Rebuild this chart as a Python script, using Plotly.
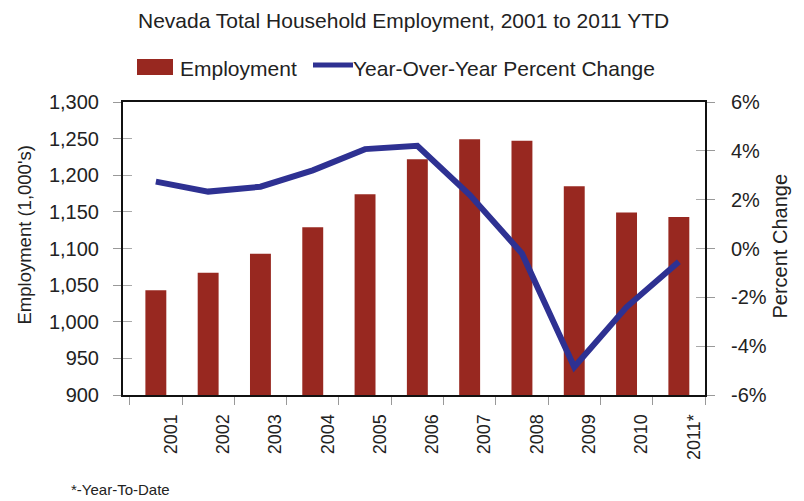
import plotly.graph_objects as go

years = ["2001", "2002", "2003", "2004", "2005", "2006", "2007", "2008", "2009", "2010", "2011*"]
employment = [1043, 1067, 1093, 1129, 1174, 1222, 1249, 1247, 1185, 1149, 1143]
pct_change = [2.74, 2.33, 2.53, 3.2, 4.07, 4.21, 2.2, -0.2, -4.85, -2.4, -0.54]
left_ticks = [900, 950, 1000, 1050, 1100, 1150, 1200, 1250, 1300]
right_ticks = [-6, -4, -2, 0, 2, 4, 6]
right_labels = [f"{v}%" for v in right_ticks]

BAR = "#982820"
LINE = "#2E3192"
TXT = "#222222"
FONT = "Liberation Sans, Arial, sans-serif"

W, H = 804, 501
L, R, T, B = 123, 99, 102, 106


def px_x(px):
    return (px - L) / (W - L - R)


def px_y(py):
    return (H - B - py) / (H - T - B)


fig = go.Figure()
fig.add_trace(go.Bar(
    x=years, y=employment, name="Employment",
    marker=dict(color=BAR, line=dict(width=0)), width=0.4,
))
fig.add_trace(go.Scatter(
    x=years, y=pct_change, name="Year-Over-Year Percent Change",
    yaxis="y2", mode="lines", line=dict(color=LINE, width=6),
))

axis_font = dict(size=20, family=FONT, color=TXT)

fig.update_layout(
    width=W, height=H,
    margin=dict(l=L, r=R, t=T, b=B),
    paper_bgcolor="white", plot_bgcolor="white",
    font=dict(family=FONT, color=TXT),
    showlegend=False,
    title=dict(text="Nevada Total Household Employment, 2001 to 2011 YTD",
               x=0.502, xref="container", xanchor="center",
               y=0.958, yref="container", yanchor="middle",
               font=dict(size=21, family=FONT, color=TXT)),
    xaxis=dict(
        type="category", tickson="boundaries", ticks="outside", ticklen=8,
        tickcolor="#999999", tickangle=-90, ticklabelshift=15,
        ticklabelstandoff=10,
        tickfont=dict(size=18, family=FONT, color=TXT),
        showline=True, linecolor="#111111", linewidth=2, mirror=True,
        showgrid=False, zeroline=False,
    ),
    yaxis=dict(
        range=[900, 1300], tickvals=left_ticks, tickformat=",",
        ticks="outside", ticklen=8, tickcolor="#999999",
        ticklabelstandoff=10,
        tickfont=axis_font,
        showline=True, linecolor="#111111", linewidth=2, mirror=True,
        showgrid=False, zeroline=False,
    ),
    yaxis2=dict(
        range=[-6, 6], tickvals=right_ticks, ticktext=right_labels,
        overlaying="y", side="right",
        ticks="outside", ticklen=8, tickcolor="#999999",
        ticklabelstandoff=12,
        tickfont=axis_font,
        showline=True, linecolor="#111111", linewidth=2,
        showgrid=False, zeroline=False,
    ),
    # inner halves of the tick marks that cross the frame
    yaxis3=dict(
        range=[900, 1300], tickvals=left_ticks, overlaying="y", side="left",
        ticks="inside", ticklen=9, tickcolor="#aaaaaa", showticklabels=False,
        showline=False, showgrid=False, zeroline=False,
    ),
    yaxis4=dict(
        range=[-6, 6], tickvals=right_ticks, overlaying="y", side="right",
        ticks="inside", ticklen=9, tickcolor="#aaaaaa", showticklabels=False,
        showline=False, showgrid=False, zeroline=False,
    ),
)

# invisible traces so the overlay axes get drawn
fig.add_trace(go.Scatter(x=[years[0]], y=[None], yaxis="y3", showlegend=False, hoverinfo="skip"))
fig.add_trace(go.Scatter(x=[years[0]], y=[None], yaxis="y4", showlegend=False, hoverinfo="skip"))

# axis titles
fig.add_annotation(
    text="Employment (1,000's)", xref="paper", yref="paper",
    x=px_x(24), y=px_y(235.5), textangle=-90, showarrow=False,
    xanchor="center", yanchor="middle",
    font=dict(size=18.5, family=FONT, color=TXT),
)
fig.add_annotation(
    text="Percent Change", xref="paper", yref="paper",
    x=px_x(779), y=px_y(246.5), textangle=-90, showarrow=False,
    xanchor="center", yanchor="middle",
    font=dict(size=20, family=FONT, color=TXT),
)

# legend
fig.add_shape(type="rect", xref="paper", yref="paper",
              x0=px_x(137), x1=px_x(173), y0=px_y(75), y1=px_y(59),
              fillcolor=BAR, line=dict(width=0))
fig.add_annotation(
    text=fig.data[0].name, xref="paper", yref="paper",
    x=px_x(178), y=px_y(68), xanchor="left", yanchor="middle", showarrow=False,
    font=dict(size=21, family=FONT, color=TXT),
)
fig.add_shape(type="line", xref="paper", yref="paper",
              x0=px_x(313), x1=px_x(353), y0=px_y(65), y1=px_y(65),
              line=dict(color=LINE, width=5))
fig.add_annotation(
    text=fig.data[1].name, xref="paper", yref="paper",
    x=px_x(351), y=px_y(68), xanchor="left", yanchor="middle", showarrow=False,
    font=dict(size=21, family=FONT, color=TXT),
)

# footnote
fig.add_annotation(
    text="*-Year-To-Date", xref="paper", yref="paper",
    x=px_x(70), y=px_y(499), xanchor="left", yanchor="bottom", showarrow=False,
    borderpad=0, font=dict(size=15, family=FONT, color=TXT),
)

fig.write_html("out.html")
